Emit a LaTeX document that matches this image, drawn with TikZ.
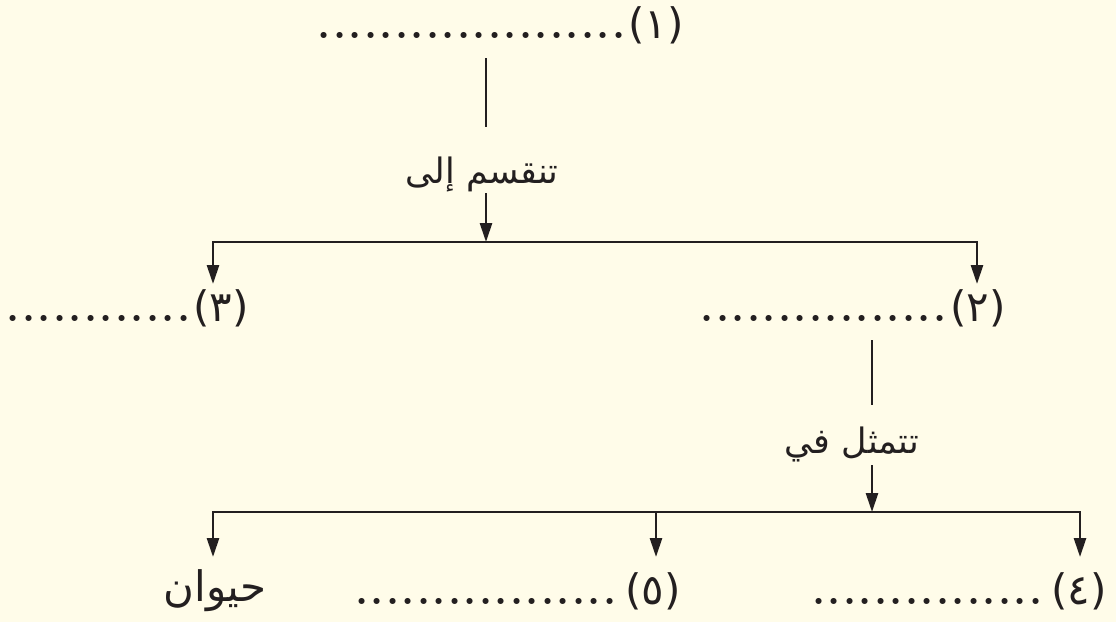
\documentclass[tikz,border=0pt]{standalone}
\usepackage{fontspec}
\newfontfamily\arabicfont[Script=Arabic]{DejaVu Sans}
\TeXXeTstate=1
\usetikzlibrary{arrows.meta}
\definecolor{bg}{HTML}{FFFCE9}
\definecolor{ink}{HTML}{231F20}
\newcommand\dotrow[1]{\hbox to \dimexpr 15.5pt*#1\relax{\xleaders\hbox to 15.5pt{\hss\textbf{.}\hss}\hfill}}
\tikzset{
  lbl/.style={inner sep=0pt, font=\arabicfont\fontsize{42}{48}\selectfont, text=ink},
  dotsrow/.style={inner sep=0pt, text height=6pt, text depth=0pt, font=\fontsize{42}{48}\selectfont, text=ink},
  word/.style={inner sep=0pt, font=\arabicfont\fontsize{35}{42}\selectfont, text=ink},
  conn/.style={draw=ink, line width=2.7pt},
  arr/.style={conn, -{Triangle[length=19pt,width=12pt]}}
}
\begin{document}
\begin{tikzpicture}[x=1pt,y=-1pt]
\fill[bg] (0,0) rectangle (1116,622);
\useasboundingbox (0,0) rectangle (1116,622);
% level 1
\node[lbl, anchor=base east] (l1) at (684,38) {(١)};
\node[dotsrow, anchor=base east] (d1) at (627,38) {\dotrow{20}};
\node[word, anchor=base] (t1) at (482,183) {\beginR تنقسم إلى\endR};
% level 2
\node[lbl, anchor=base east] (l3) at (249,321) {(٣)};
\node[dotsrow, anchor=base east] (d3) at (192,321) {\dotrow{12}};
\node[lbl, anchor=base east] (l2) at (1006,321) {(٢)};
\node[dotsrow, anchor=base east] (d2) at (948,321) {\dotrow{16}};
\node[word, anchor=base] (t2) at (852,453) {\beginR تتمثل في\endR};
% level 3
\node[lbl, anchor=base east] (l4) at (1107,604) {(٤)};
\node[dotsrow, anchor=base east] (d4) at (1044,604) {\dotrow{15}};
\node[lbl, anchor=base east] (l5) at (681,604) {(٥)};
\node[dotsrow, anchor=base east] (d5) at (618,604) {\dotrow{17}};
\node[word, anchor=base, font=\arabicfont\fontsize{42}{48}\selectfont] (w6) at (215,601) {\beginR حيوان\endR};
% connectors, first split
\coordinate (v1a) at (486,58);
\coordinate (v1b) at (486,127);
\coordinate (v1c) at (486,193);
\coordinate (j1) at (486,242);
\coordinate (h1l) at (213,242);
\coordinate (h1r) at (977,242);
\draw[conn] (v1a) -- (v1b);
\draw[arr] (v1c) -- (j1);
\draw[conn, line cap=rect] (h1l) -- (h1r);
\draw[arr] (h1l) -- (213,284);
\draw[arr] (h1r) -- (977,284);
% second split
\coordinate (v2a) at (872,340);
\coordinate (v2b) at (872,405);
\coordinate (v2c) at (872,465);
\coordinate (j2) at (872,512);
\coordinate (h2l) at (213,512);
\coordinate (h2m) at (656,512);
\coordinate (h2r) at (1080,512);
\draw[conn] (v2a) -- (v2b);
\draw[arr] (v2c) -- (j2);
\draw[conn, line cap=rect] (h2l) -- (h2r);
\draw[arr] (h2l) -- (213,557);
\draw[arr] (h2m) -- (656,557);
\draw[arr] (h2r) -- (1080,557);
\end{tikzpicture}
\end{document}
